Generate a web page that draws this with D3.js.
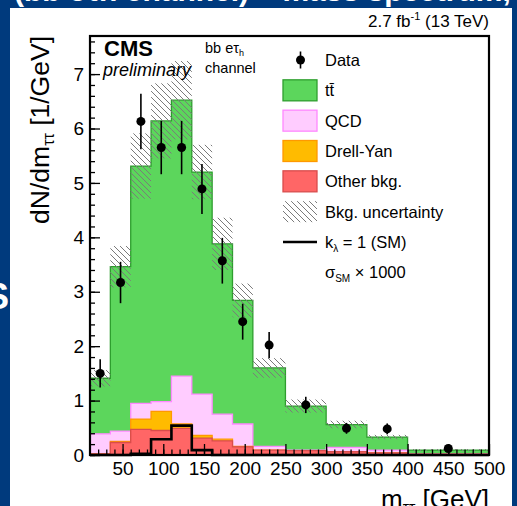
<!DOCTYPE html>
<html lang="en">
<head>
  <meta charset="UTF-8">
  <title>m_tautau bb e tau_h</title>
  <script src="https://cdn.jsdelivr.net/npm/d3@7/dist/d3.min.js"></script>
  <style>
    html, body {
      margin: 0;
      padding: 0;
      background: #003a7d;
    }
    svg text {
      font-family: "Liberation Sans", Arial, Helvetica, sans-serif;
      fill: #000;
    }
  </style>
</head>
<body>
  <svg id="chart" width="517" height="506"></svg>
  <script>
    // bin edges in GeV (variable width)
    const binEdges = [10, 35, 60, 85, 110, 135, 160, 185, 210, 250, 300, 350, 400, 500];

    // stacked backgrounds, dN/dm per GeV
    const otherBkg = [0.02, 0.23, 0.47, 0.45, 0.49, 0.31, 0.26, 0.15, 0.09, 0.08, 0.06, 0.04, 0.01];
    const drellYan = [0, 0.02, 0.19, 0.35, 0.08, 0.05, 0.03, 0.01, 0, 0, 0, 0, 0];
    const qcd = [0.37, 0.19, 0.29, 0.18, 0.88, 0.76, 0.46, 0.41, 0.07, 0.01, 0.08, 0.05, 0.01];
    const ttbar = [1.02, 3.02, 4.36, 5.16, 5.07, 4.08, 3.13, 2.27, 1.44, 0.81, 0.42, 0.24, 0.07];
    const bkgErr = [0.15, 0.38, 0.6, 0.69, 0.72, 0.5, 0.48, 0.31, 0.18, 0.12, 0.07, 0.04, 0.02];

    // data points
    const dataVals = [1.5, 3.17, 6.13, 5.65, 5.65, 4.89, 3.57, 2.45, 2.02, 0.92, 0.49, 0.48, 0.12];
    const dataErr = [0.26, 0.38, 0.51, 0.49, 0.49, 0.46, 0.42, 0.33, 0.24, 0.15, 0.1, 0.1, 0.04];

    // SM signal x 1000
    const signalSM = [0, 0, 0.02, 0.29, 0.54, 0.09, 0, 0, 0, 0, 0, 0, 0];

    const xTicks = [50, 100, 150, 200, 250, 300, 350, 400, 450, 500];
    const yTicks = [0, 1, 2, 3, 4, 5, 6, 7];

    const svg = d3.select('#chart');
    const W = 517, H = 506;
    const pLeft = 90, pRight = 489, pTop = 36, pBottom = 455;

    const x = d3.scaleLinear().domain([10, 500]).range([pLeft, pRight]);
    const y = d3.scaleLinear().domain([0, 7.7]).range([pBottom, pTop]);

    // slide background
    svg.append('rect').attr('width', W).attr('height', H).attr('fill', '#003a7d');
    svg.append('rect').attr('x', 10).attr('y', 8).attr('width', 502).attr('height', H - 8).attr('fill', '#fff');

    // bits of slide text peeking in
    const defs = svg.append('defs');
    defs.append('clipPath').attr('id', 'topbar').append('rect').attr('width', W).attr('height', 8);
    defs.append('clipPath').attr('id', 'leftbar').append('rect').attr('width', 10).attr('height', H);
    svg.append('text').attr('clip-path', 'url(#topbar)')
      .attr('x', 14).attr('y', 1).style('fill', '#fff')
      .style('font-size', '30px').style('font-weight', 'bold')
      .text('(bb eτh channel) – mass spectrum, preliminary');
    svg.append('text').attr('clip-path', 'url(#leftbar)')
      .attr('x', 9).attr('y', 309).attr('text-anchor', 'end').style('fill', '#fff')
      .style('font-size', '36px').style('font-weight', 'bold')
      .text('S');

    // hatch pattern for bkg uncertainty
    const hatch = defs.append('pattern').attr('id', 'hatch')
      .attr('patternUnits', 'userSpaceOnUse').attr('width', 6).attr('height', 6);
    hatch.append('path')
      .attr('d', 'M-1,-1 L7,7 M-4,2 L1,7 M5,-1 L7,1')
      .attr('stroke', '#7a7a7a').attr('stroke-width', 1);

    // stack
    const rows = binEdges.slice(0, -1).map((e, i) => ({
      i, x0: e, x1: binEdges[i + 1],
      other: otherBkg[i], dy: drellYan[i], qcd: qcd[i], tt: ttbar[i]
    }));
    const keys = ['other', 'dy', 'qcd', 'tt'];
    const colors = {
      other: ['#ff6666', '#d94c4c'],
      dy: ['#ffbb00', '#ff9900'],
      qcd: ['#ffccff', '#ff88ff'],
      tt: ['#5cd65c', '#2e9e2e']
    };
    const stacked = d3.stack().keys(keys)(rows);

    // step points: one per left edge, plus closing point on last right edge
    function stepPts(layer) {
      const pts = layer.map((d, i) => ({ x: rows[i].x0, y0: d[0], y1: d[1] }));
      const last = layer[layer.length - 1];
      pts.push({ x: rows[rows.length - 1].x1, y0: last[0], y1: last[1] });
      return pts;
    }
    const area = d3.area().curve(d3.curveStepAfter)
      .x(d => x(d.x)).y0(d => y(d.y0)).y1(d => y(d.y1));
    const topLine = d3.line().curve(d3.curveStepAfter)
      .x(d => x(d.x)).y(d => y(d.y1));

    const g = svg.append('g');
    // draw top layer first so lower layers sit over its outline
    stacked.slice().reverse().forEach(layer => {
      const pts = stepPts(layer);
      const full = pts.map(p => ({ x: p.x, y0: 0, y1: p.y1 }));
      g.append('path').attr('d', area(full)).attr('fill', colors[layer.key][0]);
      g.append('path').attr('d', topLine(pts)).attr('fill', 'none')
        .attr('stroke', colors[layer.key][1]).attr('stroke-width', 1.3);
    });

    // bkg uncertainty band
    const totals = rows.map(r => r.other + r.dy + r.qcd + r.tt);
    g.selectAll('rect.unc').data(rows).join('rect').attr('class', 'unc')
      .attr('x', d => x(d.x0)).attr('width', d => x(d.x1) - x(d.x0))
      .attr('y', d => y(totals[d.i] + bkgErr[d.i]))
      .attr('height', d => y(totals[d.i] - bkgErr[d.i]) - y(totals[d.i] + bkgErr[d.i]))
      .attr('fill', 'url(#hatch)');

    // signal
    const sigPts = rows.map(r => ({ x: r.x0, y1: signalSM[r.i] }));
    sigPts.push({ x: rows[rows.length - 1].x1, y1: signalSM[signalSM.length - 1] });
    g.append('path').attr('d', topLine(sigPts)).attr('fill', 'none')
      .attr('stroke', '#000').attr('stroke-width', 2.6);

    // data
    const pts = g.selectAll('g.pt').data(rows).join('g').attr('class', 'pt')
      .attr('transform', d => `translate(${x((d.x0 + d.x1) / 2)},0)`);
    pts.append('line')
      .attr('y1', d => y(dataVals[d.i] + dataErr[d.i]))
      .attr('y2', d => y(dataVals[d.i] - dataErr[d.i]))
      .attr('stroke', '#000').attr('stroke-width', 1.6);
    pts.append('circle').attr('cy', d => y(dataVals[d.i])).attr('r', 4.5).attr('fill', '#000');

    // axes
    const tickFont = '19px';
    svg.append('g').attr('transform', `translate(${pLeft},0)`)
      .call(d3.axisLeft(y).tickValues(yTicks).tickSize(-10).tickPadding(6).tickFormat(d3.format('d')));
    svg.append('g').attr('transform', `translate(${pLeft},0)`)
      .call(d3.axisLeft(y).tickValues(d3.range(0, 7.61, 0.2)).tickSize(-5).tickFormat(''));
    svg.append('g').attr('transform', `translate(0,${pBottom})`)
      .call(d3.axisBottom(x).tickValues(xTicks).tickSize(-11).tickPadding(7));
    svg.append('g').attr('transform', `translate(0,${pBottom})`)
      .call(d3.axisBottom(x).tickValues(d3.range(20, 500, 10)).tickSize(-5.5).tickFormat(''));
    svg.selectAll('.domain').remove();
    svg.selectAll('.tick line').attr('stroke', '#000').attr('stroke-width', 1.3);
    svg.selectAll('.tick text').style('font-size', tickFont).style('font-family', '"Liberation Sans", Arial, sans-serif').attr('fill', '#000');

    // frame
    svg.append('rect').attr('x', pLeft).attr('y', pTop)
      .attr('width', pRight - pLeft).attr('height', pBottom - pTop)
      .attr('fill', 'none').attr('stroke', '#000').attr('stroke-width', 2.2);

    // axis titles
    const yl = svg.append('text').attr('transform', `translate(49,${pTop}) rotate(-90)`)
      .attr('text-anchor', 'end').style('font-size', '26.5px');
    yl.append('tspan').text('dN/dm');
    yl.append('tspan').attr('dy', 5).style('font-size', '16px').text('ττ');
    yl.append('tspan').attr('dy', -5).text(' [1/GeV]');

    const xl = svg.append('text').attr('x', pRight).attr('y', 508)
      .attr('text-anchor', 'end').style('font-size', '26px');
    xl.append('tspan').text('m');
    xl.append('tspan').attr('dy', 5).style('font-size', '16px').text('ττ');
    xl.append('tspan').attr('dy', -5).text(' [GeV]');

    // lumi + CMS labels
    const lumi = svg.append('text').attr('x', pRight).attr('y', 27)
      .attr('text-anchor', 'end').style('font-size', '17px');
    lumi.append('tspan').text('2.7 fb');
    lumi.append('tspan').attr('dy', -7).style('font-size', '11px').text('-1');
    lumi.append('tspan').attr('dy', 7).text(' (13 TeV)');

    svg.append('text').attr('x', 104).attr('y', 56)
      .style('font-size', '22px').style('font-weight', 'bold').text('CMS');
    svg.append('text').attr('x', 103).attr('y', 76)
      .style('font-size', '18px').style('font-style', 'italic').text('preliminary');
    const ch = svg.append('text').attr('x', 205).attr('y', 53).style('font-size', '14.5px');
    ch.append('tspan').text('bb eτ');
    ch.append('tspan').attr('dy', 3).style('font-size', '9px').text('h');
    svg.append('text').attr('x', 205).attr('y', 73).style('font-size', '14.5px').text('channel');

    // legend
    const legX = 283, legTextX = 325, legY0 = 60, legStep = 30.33;
    const leg = svg.append('g').style('font-size', '16.5px');
    const row = k => legY0 + k * legStep;

    leg.append('line').attr('x1', 300.5).attr('x2', 300.5).attr('y1', row(0) - 8.5).attr('y2', row(0) + 8.5)
      .attr('stroke', '#000').attr('stroke-width', 1.6);
    leg.append('circle').attr('cx', 300.5).attr('cy', row(0)).attr('r', 4.5).attr('fill', '#000');

    const boxItems = [
      { k: 1, key: 'tt' }, { k: 2, key: 'qcd' }, { k: 3, key: 'dy' }, { k: 4, key: 'other' }
    ];
    boxItems.forEach(b => {
      leg.append('rect').attr('x', legX).attr('y', row(b.k) - 10.5)
        .attr('width', 34).attr('height', 21)
        .attr('fill', colors[b.key][0]).attr('stroke', colors[b.key][1]).attr('stroke-width', 1.3);
    });
    leg.append('rect').attr('x', legX).attr('y', row(5) - 10.5)
      .attr('width', 34).attr('height', 21).attr('fill', 'url(#hatch)');
    leg.append('line').attr('x1', legX).attr('x2', legX + 34).attr('y1', row(6)).attr('y2', row(6))
      .attr('stroke', '#000').attr('stroke-width', 2.6);

    const txt = k => leg.append('text').attr('x', legTextX).attr('y', row(k) + 6);
    txt(0).text('Data');
    txt(1).text('tt\u0304');
    txt(2).text('QCD');
    txt(3).text('Drell-Yan');
    txt(4).text('Other bkg.');
    txt(5).text('Bkg. uncertainty');
    const kl = txt(6);
    kl.append('tspan').text('k');
    kl.append('tspan').attr('dy', 4).style('font-size', '10px').text('λ');
    kl.append('tspan').attr('dy', -4).text(' = 1 (SM)');
    const sg = txt(7);
    sg.append('tspan').text('σ');
    sg.append('tspan').attr('dy', 4).style('font-size', '10px').text('SM');
    sg.append('tspan').attr('dy', -4).text(' × 1000');
  </script>
</body>
</html>
